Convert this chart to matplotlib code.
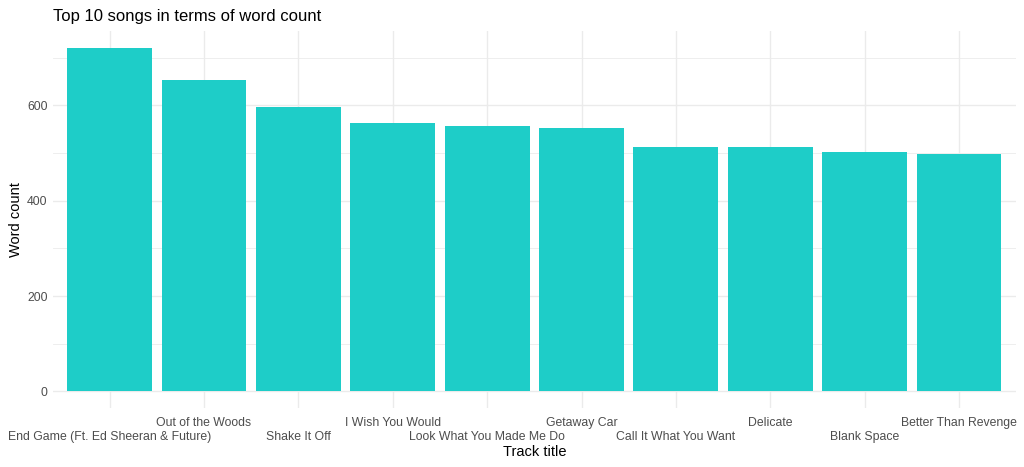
import numpy as np
import matplotlib.pyplot as plt

# data
tracks = ['End Game (Ft. Ed Sheeran & Future)', 'Out of the Woods', 'Shake It Off',
          'I Wish You Would', 'Look What You Made Me Do', 'Getaway Car',
          'Call It What You Want', 'Delicate', 'Blank Space', 'Better Than Revenge']
word_count = [720, 653, 596, 563, 556, 552, 513, 512, 502, 498]

plt.rcParams['font.family'] = ['Liberation Sans', 'DejaVu Sans']

fig = plt.figure(figsize=(10.24, 4.67), dpi=100)
ax = fig.add_axes([0.0518, 0.1253, 0.9400, 0.8083])

x = np.arange(1, len(tracks) + 1)
ax.bar(x, word_count, width=0.9, color='#1ECDC8', zorder=2)

ax.set_xlim(0.4, len(tracks) + 0.6)
ax.set_ylim(-36, 756)

# gridlines like theme_minimal
ax.set_yticks([0, 200, 400, 600])
ax.set_yticks([100, 300, 500, 700], minor=True)

# dodged x labels: upper row on major ticks, lower row on minor ticks
ax.set_xticks(x[1::2], [tracks[i] for i in range(1, len(tracks), 2)])
ax.set_xticks(x[0::2], [tracks[i] for i in range(0, len(tracks), 2)], minor=True)

ax.grid(True, which='major', color='#EBEBEB', linewidth=1.0, zorder=0)
ax.grid(True, which='minor', axis='x', color='#EBEBEB', linewidth=1.0, zorder=0)
ax.grid(True, which='minor', axis='y', color='#EBEBEB', linewidth=0.6, zorder=0)

ax.tick_params(axis='both', which='both', length=0, labelsize=8.8, labelcolor='#4D4D4D')
ax.tick_params(axis='x', which='major', pad=6)
ax.tick_params(axis='x', which='minor', pad=16)
ax.tick_params(axis='y', pad=4)

for s in ax.spines.values():
    s.set_visible(False)

ax.set_xlabel('Track title', fontsize=10.5, labelpad=2)
ax.set_ylabel('Word count', fontsize=10.5, labelpad=3)
ax.set_title('Top 10 songs in terms of word count', fontsize=12, loc='left', pad=7)

fig.savefig('out.png', dpi=100)
